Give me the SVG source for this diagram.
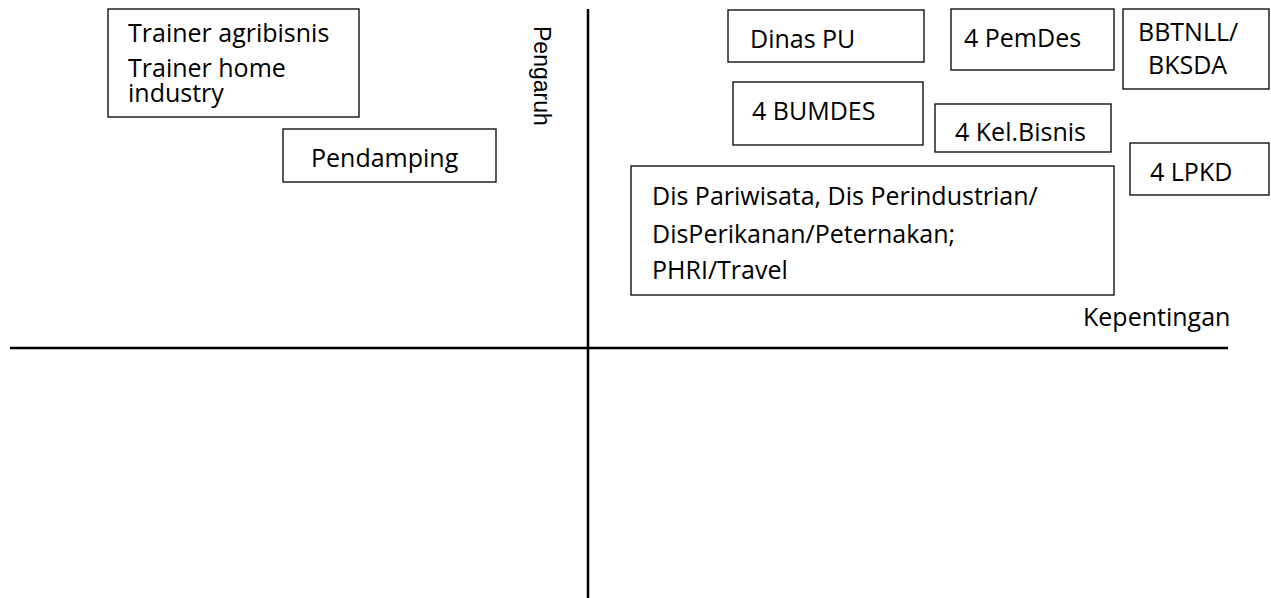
<svg xmlns="http://www.w3.org/2000/svg" width="1271" height="598" viewBox="0 0 1271 598">
  <style>
    .box { fill: #ffffff; stroke: #000000; stroke-width: 1.3; }
    .axis { stroke: #000000; stroke-width: 2.5; fill: none; }
    text { font-family: "Open Sans", "Liberation Sans", sans-serif; font-size: 25px; fill: #000000; }
    .vlabel { font-family: "Liberation Sans", Arial, sans-serif; font-size: 23px; }
  </style>
  <rect width="1271" height="598" fill="#ffffff"/>

  <!-- quadrant axes -->
  <g id="axes">
    <line class="axis" x1="588" y1="9" x2="588" y2="598"/>
    <line class="axis" x1="10" y1="348" x2="1228" y2="348"/>
  </g>

  <!-- axis labels -->
  <g id="label-pengaruh">
    <text class="vlabel" transform="translate(534,26) rotate(90)">Pengaruh</text>
  </g>
  <g id="label-kepentingan">
    <text x="1083" y="326">Kepentingan</text>
  </g>

  <!-- stakeholder boxes -->
  <g id="trainer">
    <rect class="box" x="108" y="9" width="251" height="108"/>
    <text x="128" y="42">Trainer agribisnis</text>
    <text x="128" y="77">Trainer home</text>
    <text x="128" y="102">industry</text>
  </g>
  <g id="pendamping">
    <rect class="box" x="283" y="129" width="213" height="53"/>
    <text x="311" y="167">Pendamping</text>
  </g>
  <g id="dinas-pu">
    <rect class="box" x="728" y="10" width="196" height="52"/>
    <text x="750" y="48">Dinas PU</text>
  </g>
  <g id="pemdes">
    <rect class="box" x="951" y="9" width="163" height="61"/>
    <text x="964" y="47">4 PemDes</text>
  </g>
  <g id="bbtnll">
    <rect class="box" x="1123" y="9" width="146" height="80"/>
    <text x="1138" y="41">BBTNLL/</text>
    <text x="1148" y="74">BKSDA</text>
  </g>
  <g id="bumdes">
    <rect class="box" x="733" y="82" width="190" height="63"/>
    <text x="752" y="120">4 BUMDES</text>
  </g>
  <g id="kel-bisnis">
    <rect class="box" x="935" y="104" width="176" height="48"/>
    <text x="955" y="141">4 Kel.Bisnis</text>
  </g>
  <g id="lpkd">
    <rect class="box" x="1130" y="143" width="139" height="52"/>
    <text x="1150" y="181">4 LPKD</text>
  </g>
  <g id="dinas">
    <rect class="box" x="631" y="166" width="483" height="129"/>
    <text x="652" y="205">Dis Pariwisata, Dis Perindustrian/</text>
    <text x="652" y="243">DisPerikanan/Peternakan;</text>
    <text x="652" y="279">PHRI/Travel</text>
  </g>
</svg>
